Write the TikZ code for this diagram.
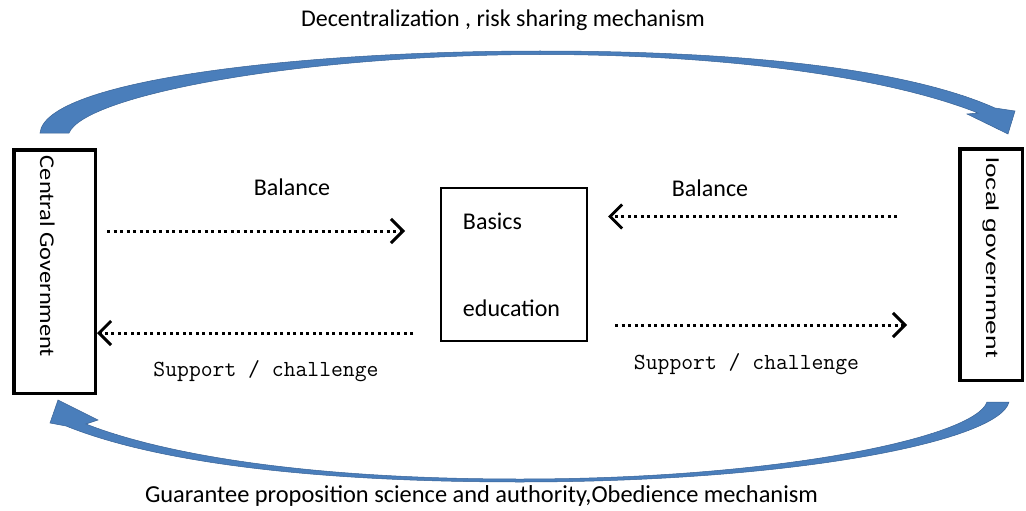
\documentclass[tikz,border=0pt]{standalone}
\usepackage{fontspec}
\setmainfont{Carlito}
\newfontfamily\lgfont{Liberation Sans}
\usetikzlibrary{arrows.meta,calc}
\definecolor{arcblue}{RGB}{74,126,187}
\definecolor{arcedge}{RGB}{56,98,150}

\begin{document}
\begin{tikzpicture}[x=1pt,y=-1pt,
  every node/.style={font=\fontsize{24}{29}\selectfont},
  govbox/.style={draw,line width=3.5pt,inner sep=0pt},
  basebox/.style={draw,line width=2pt,align=left,minimum width=146pt,minimum height=153pt},
  flow/.style={line width=3pt,dash pattern=on 3pt off 3.5pt,-{Straight Barb[length=12pt,width=24pt]}},
  caption/.style={font=\fontsize{23}{27}\ttfamily},
  bigarc/.style={fill=arcblue,draw=arcedge,line width=0.5pt}]
\useasboundingbox (0,0) rectangle (1026,511);

\node[govbox,minimum width=81.5pt,minimum height=243.5pt] (cg) at (54.5,271.5)
  {\rotatebox{-90}{\fontsize{21}{25}\selectfont\scalebox{1.16}[1]{Central Government}\hspace*{30pt}\rule{0pt}{29pt}}};
\node[govbox,minimum width=62.5pt,minimum height=231.5pt] (lg) at (991,264.5)
  {\rotatebox{-90}{\lgfont\fontsize{17.5}{20}\selectfont\scalebox{1.5}[1]{local government}\hspace*{14pt}}};
\node[basebox] (basics) at (514,264.5) {Basics\\[58pt]education\hspace*{5pt}};

\node (toplbl) at (503,20) {Decentralization , risk sharing mechanism};
\node[font=\fontsize{24.4}{29}\selectfont] (botlbl) at (481.5,496) {Guarantee proposition science and authority,Obedience mechanism};
\node (bal1) at (292,187) {Balance};
\node (bal2) at (710,188) {Balance};
\node[caption] (sup1) at (266,371) {Support / challenge};
\node[caption] (sup2) at (746.5,364) {Support / challenge};

\draw[flow,shorten <=10pt,shorten >=35pt] (cg.east |- 0,231) -- (basics.west |- 0,231);
\draw[flow,shorten <=27pt] (basics.west |- 0,333) -- (cg.east |- 0,333);
\draw[flow,shorten <=61pt,shorten >=20pt] (lg.west |- 0,216.5) -- (basics.east |- 0,216.5);
\draw[flow,shorten <=27pt,shorten >=51pt] (basics.east |- 0,325) -- (lg.west |- 0,325);

\filldraw[bigarc] (40,133) .. controls (45,80) and (300,51) .. (540,51)
  .. controls (740,51) and (905,68) .. (995,108) -- (1015,111) -- (1008,134) -- (967,114) -- (978,113)
  .. controls (895,80) and (740,54.5) .. (540,54.5) .. controls (300,55) and (85,95) .. (69,133) -- cycle;
\filldraw[bigarc] (1009,402) .. controls (1000,440) and (800,482) .. (520,482)
  .. controls (300,482) and (150,460) .. (66,426) -- (50,423) -- (58,400) -- (98,420) -- (86,424)
  .. controls (160,453) and (300,479) .. (520,479) .. controls (780,479) and (975,437) .. (987,402) -- cycle;
\end{tikzpicture}
\end{document}
